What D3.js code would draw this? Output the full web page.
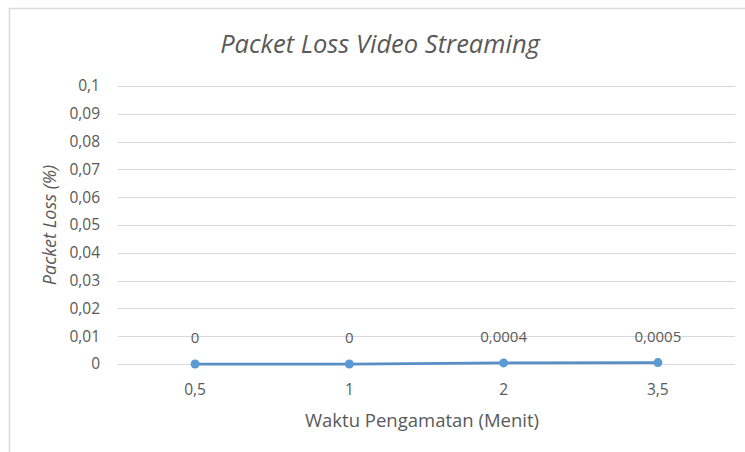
<!DOCTYPE html>
<html>
<head>
<meta charset="utf-8">
<script src="https://cdn.jsdelivr.net/npm/d3@7"></script>
<style>
  body { margin: 0; background: #fff; }
  text { font-family: "Open Sans", "Noto Sans", sans-serif; fill: #595959; }
</style>
</head>
<body>
<div id="chart"></div>
<script>
// data
var categories = ["0,5", "1", "2", "3,5"];
var lossValues = [0, 0, 0.0004, 0.0005];
var valueLabels = ["0", "0", "0,0004", "0,0005"];
var yTicks = [0, 0.01, 0.02, 0.03, 0.04, 0.05, 0.06, 0.07, 0.08, 0.09, 0.1];

var W = 745, H = 452;
var svg = d3.select("#chart").append("svg")
  .attr("width", W).attr("height", H);

// chart frame (only top and left edges are in the picture)
svg.append("line").attr("x1", 9).attr("x2", W).attr("y1", 8.5).attr("y2", 8.5)
  .attr("stroke", "#d9d9d9").attr("stroke-width", 1.5);
svg.append("line").attr("x1", 9.5).attr("x2", 9.5).attr("y1", 8).attr("y2", H)
  .attr("stroke", "#d9d9d9").attr("stroke-width", 1.5);

var plotLeft = 118, plotRight = 735;

var x = d3.scaleBand()
  .domain(categories)
  .range([plotLeft, plotRight]);

var y = d3.scaleLinear()
  .domain([0, 0.1])
  .range([364, 86]);

var fmt = function(d) { return d3.format(".2~f")(d).replace(".", ","); };
var cx = function(c) { return x(c) + x.bandwidth() / 2; };

// gridlines
svg.append("g").selectAll("line")
  .data(yTicks).enter().append("line")
  .attr("x1", plotLeft).attr("x2", plotRight)
  .attr("y1", function(d) { return Math.round(y(d)) + 0.5; })
  .attr("y2", function(d) { return Math.round(y(d)) + 0.5; })
  .attr("stroke", "#d9d9d9").attr("stroke-width", 1);

// y axis labels
svg.append("g").selectAll("text")
  .data(yTicks).enter().append("text")
  .attr("x", 100)
  .attr("y", function(d) { return y(d); })
  .attr("dy", "0.35em")
  .attr("text-anchor", "end")
  .attr("font-size", 15.5)
  .text(fmt);

// x axis labels
svg.append("g").selectAll("text")
  .data(categories).enter().append("text")
  .attr("x", cx)
  .attr("y", 395)
  .attr("text-anchor", "middle")
  .attr("font-size", 15.5)
  .text(function(d) { return d; });

var pts = categories.map(function(c, i) { return { c: c, v: lossValues[i], lab: valueLabels[i] }; });

// line
var line = d3.line()
  .x(function(d) { return cx(d.c); })
  .y(function(d) { return y(d.v); });

svg.append("path")
  .datum(pts)
  .attr("d", line)
  .attr("fill", "none")
  .attr("stroke", "#5a8ec6")
  .attr("stroke-width", 2.75);

svg.append("g").selectAll("circle")
  .data(pts).enter().append("circle")
  .attr("cx", function(d) { return cx(d.c); })
  .attr("cy", function(d) { return y(d.v); })
  .attr("r", 4.5)
  .attr("fill", "#5b9bd5");

// data labels
svg.append("g").selectAll("text")
  .data(pts).enter().append("text")
  .attr("x", function(d) { return cx(d.c); })
  .attr("y", function(d) { return y(d.v) - 21; })
  .attr("text-anchor", "middle")
  .attr("font-size", 15)
  .attr("fill", "#404040")
  .text(function(d) { return d.lab; });

// title
svg.append("text")
  .attr("x", 380)
  .attr("y", 53)
  .attr("text-anchor", "middle")
  .attr("font-size", 25.5)
  .attr("font-style", "italic")
  .text("Packet Loss Video Streaming");

// axis titles
svg.append("text")
  .attr("x", 422)
  .attr("y", 427)
  .attr("text-anchor", "middle")
  .attr("font-size", 18.5)
  .text("Waktu Pengamatan (Menit)");

svg.append("text")
  .attr("transform", "translate(56,225)rotate(-90)")
  .attr("text-anchor", "middle")
  .attr("font-size", 18)
  .attr("font-style", "italic")
  .text("Packet Loss (%)");
</script>
</body>
</html>
